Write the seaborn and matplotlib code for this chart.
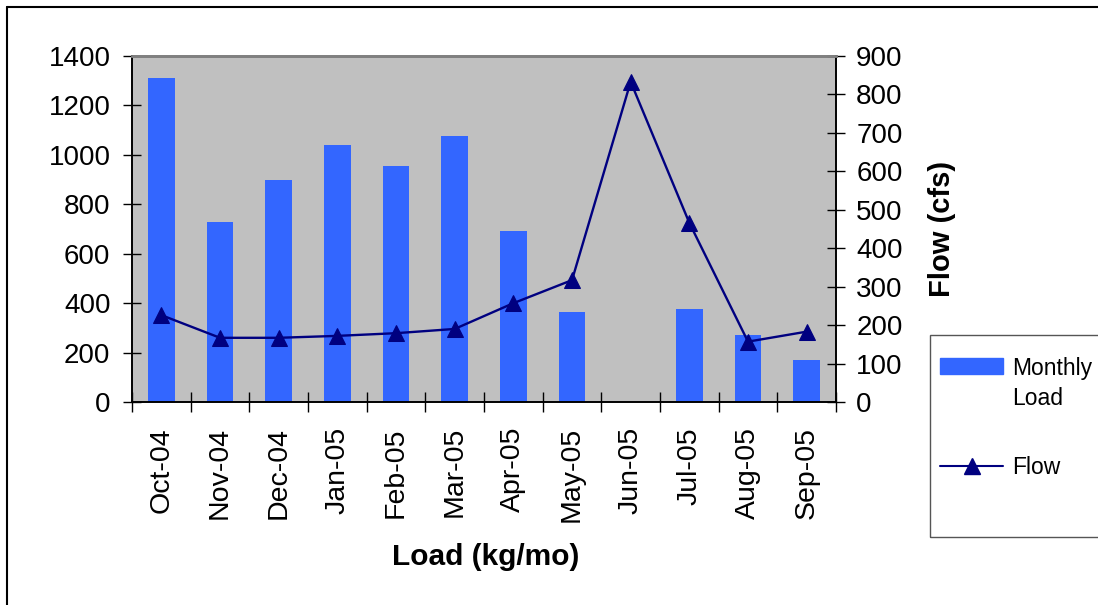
import numpy as np
import pandas as pd
import matplotlib
matplotlib.use("Agg")
import matplotlib.pyplot as plt
from matplotlib.lines import Line2D
from matplotlib.patches import Rectangle
from matplotlib.legend_handler import HandlerPatch
import seaborn as sns

months = ["Oct-04", "Nov-04", "Dec-04", "Jan-05", "Feb-05", "Mar-05",
          "Apr-05", "May-05", "Jun-05", "Jul-05", "Aug-05", "Sep-05"]
monthly_load = [1310, 730, 900, 1039, 955, 1076, 693, 366, 0, 375, 272, 170]
flow_cfs = [226, 167, 167, 172, 179, 190, 257, 317, 833, 466, 157, 183]
load_ticks = [0, 200, 400, 600, 800, 1000, 1200, 1400]
flow_ticks = [0, 100, 200, 300, 400, 500, 600, 700, 800, 900]

sns.set_style("white")
plt.rcParams["font.family"] = ["Liberation Sans", "DejaVu Sans"]
plt.rcParams["text.color"] = "black"
plt.rcParams["axes.labelcolor"] = "black"
plt.rcParams["xtick.color"] = "black"
plt.rcParams["ytick.color"] = "black"

bar_color = "#3366FF"
line_color = "#000080"

df = pd.DataFrame({"pos": np.arange(len(months)), "month": months,
                   "load": monthly_load, "flow": flow_cfs})

fig = plt.figure(figsize=(10.98, 6.05), dpi=100)
ax = fig.add_axes([132 / 1098, 1 - 402 / 605, 704 / 1098, 346 / 605])
ax.set_facecolor("#C0C0C0")

sns.barplot(data=df, x="pos", y="load", color=bar_color, width=0.45,
            saturation=1, linewidth=0, ax=ax, native_scale=True)

ax2 = ax.twinx()
sns.lineplot(data=df, x="pos", y="flow", color=line_color, linewidth=1.7,
             marker="^", markersize=12, markeredgecolor=line_color, ax=ax2)

ax.set_xlim(-0.5, len(months) - 0.5)
ax.set_ylim(0, 1400)
ax2.set_ylim(0, 900)
ax.set_yticks(load_ticks)
ax.set_yticklabels([str(v) for v in load_ticks])
ax2.set_yticks(flow_ticks)
ax2.set_yticklabels([str(v) for v in flow_ticks])

# category boundaries carry the tick marks, centres carry the labels
ax.set_xticks(np.arange(len(months) + 1) - 0.5)
ax.set_xticklabels([])
ax.set_xticks(np.arange(len(months)), minor=True)
ax.set_xticklabels(months, minor=True, rotation=90, fontsize=20.5)
ax.tick_params(axis="x", which="major", direction="inout", length=14,
               width=1, color="black", bottom=True)
ax.tick_params(axis="x", which="minor", length=0, pad=18)
ax.tick_params(axis="y", direction="inout", length=13, width=1,
               color="black", labelsize=20, pad=9, left=True)
ax2.tick_params(axis="y", direction="inout", length=13, width=1,
                color="black", labelsize=20, pad=8, right=True)

ax.set_xlabel("Load (kg/mo)", fontsize=21.5, fontweight="bold")
ax.xaxis.set_label_coords(0.503, -0.407)
ax.set_ylabel("")
ax2.set_ylabel("Flow (cfs)", fontsize=21, fontweight="bold")
ax2.yaxis.set_label_coords(1.131, 0.5)

for a in (ax, ax2):
    for side in ("left", "right", "bottom"):
        a.spines[side].set_color("black")
        a.spines[side].set_linewidth(1.2)
    a.spines["top"].set_color("#808080")
    a.spines["top"].set_linewidth(2)


def top_line_patch(legend, orig_handle, xdescent, ydescent, width, height,
                   fontsize):
    # keep the swatch level with the first line of a two-line label
    return Rectangle((-xdescent, -ydescent + 0.83 * fontsize), width, height)


handles = [Rectangle((0, 0), 1, 1, color=bar_color),
           Line2D([], [], color=line_color, linewidth=1.5, marker="^",
                  markersize=11)]
leg = fig.legend(handles, ["Monthly\nLoad", "Flow"], loc="upper left",
                 bbox_to_anchor=(940 / 1098, 1 - 357 / 605), fontsize=16.5,
                 frameon=False, handlelength=2.75, handleheight=0.7,
                 labelspacing=2.0, borderpad=0, handletextpad=0.4,
                 borderaxespad=0,
                 handler_map={Rectangle: HandlerPatch(patch_func=top_line_patch)})
leg.get_texts()[0].set_linespacing(1.4)

# legend box
fig.add_artist(Rectangle((930 / 1098, 1 - 537 / 605), 0.2, 202 / 605,
                         transform=fig.transFigure, fill=False,
                         edgecolor="#555555", linewidth=1))

# chart area border
fig.add_artist(Line2D([7 / 1098, 7 / 1098], [0, 1 - 7 / 605],
                      transform=fig.transFigure, color="black", linewidth=1.5))
fig.add_artist(Line2D([7 / 1098, 1], [1 - 7 / 605, 1 - 7 / 605],
                      transform=fig.transFigure, color="black", linewidth=1.5))

fig.savefig("out.png", dpi=100)
